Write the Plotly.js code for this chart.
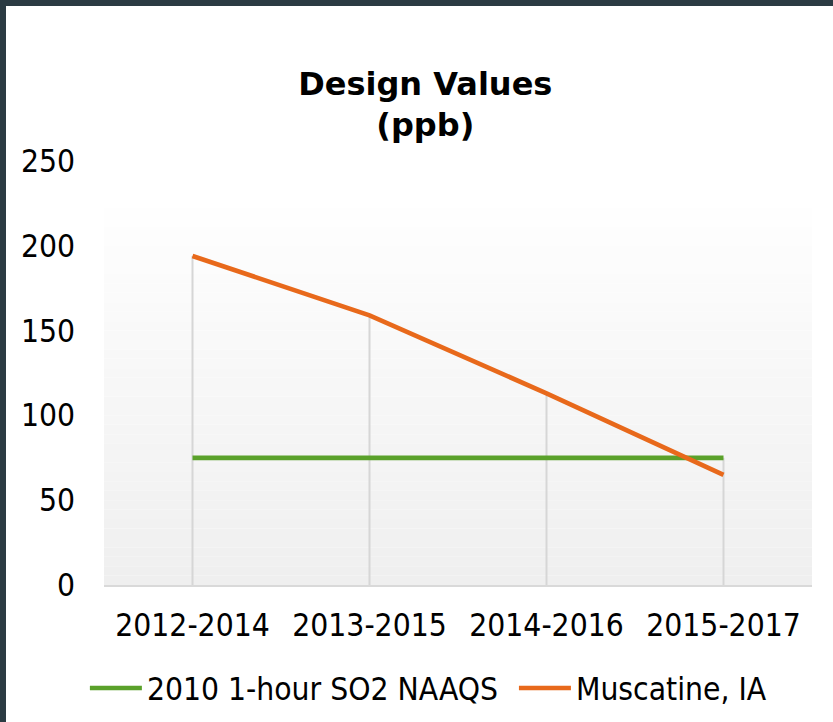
<!DOCTYPE html>
<html>
<head>
<meta charset="utf-8">
<script src="https://cdn.plot.ly/plotly-3.0.1.min.js"></script>
<style>
  html, body { margin: 0; padding: 0; background: #2B3B43; width: 833px; height: 722px; overflow: hidden; }
  #chart { position: absolute; left: 6px; top: 6px; width: 827px; height: 716px; background: #ffffff; }
</style>
</head>
<body>
<div id="chart"></div>
<script>
// ---- data ----
var categories = ["2012-2014", "2013-2015", "2014-2016", "2015-2017"];
var naaqsValues = [75, 75, 75, 75];
var muscatineValues = [194, 159, 113, 65];
var seriesNames = ["2010 1-hour SO2 NAAQS", "Muscatine, IA"];
var yTicks = [0, 50, 100, 150, 200, 250];

// drop lines from axis to the highest series value at each category
var dropX = [], dropY = [];
for (var i = 0; i < categories.length; i++) {
  dropX.push(categories[i], categories[i], null);
  dropY.push(0, Math.max(naaqsValues[i], muscatineValues[i]), null);
}

var traces = [
  { x: dropX, y: dropY, type: "scatter", mode: "lines",
    line: { color: "#D6D6D6", width: 2 }, showlegend: false, hoverinfo: "skip" },
  { x: categories, y: naaqsValues, name: seriesNames[0], type: "scatter", mode: "lines",
    line: { color: "#5AA12A", width: 4.7 }, legend: "legend" },
  { x: categories, y: muscatineValues, name: seriesNames[1], type: "scatter", mode: "lines",
    line: { color: "#E8691B", width: 4.7 }, legend: "legend2" }
];

// gradient plot-area background as stacked bands
var shapes = [];
var nBands = 40, topPaper = 0.889;
for (var b = 0; b < nBands; b++) {
  var t = b / (nBands - 1);
  var c = Math.round(0xEF + (0xFE - 0xEF) * t);
  var hex = c.toString(16);
  shapes.push({ type: "rect", xref: "paper", yref: "paper", layer: "below",
    x0: 0, x1: 1, y0: topPaper * b / nBands, y1: topPaper * (b + 1) / nBands,
    fillcolor: "#" + hex + hex + hex, line: { width: 0 } });
}

var tickFont = { family: "DejaVu Sans Condensed, DejaVu Sans, sans-serif", size: 31.5, color: "#000000" };

var layout = {
  width: 827, height: 716,
  margin: { l: 98, r: 21, t: 155, b: 137, autoexpand: false },
  paper_bgcolor: "#ffffff",
  plot_bgcolor: "rgba(0,0,0,0)",
  title: {
    text: "<b>Design Values<br>(ppb)</b>",
    font: { family: "DejaVu Sans, sans-serif", size: 32, color: "#000000" },
    x: 0.507, xref: "container", xanchor: "center",
    y: 0.876, yref: "container", yanchor: "top"
  },
  xaxis: {
    type: "category", range: [-0.5, 3.5],
    showgrid: false, zeroline: false,
    showline: true, linecolor: "#D9D9D9", linewidth: 1.5,
    ticks: "", tickfont: tickFont, ticklabelstandoff: 12, fixedrange: true
  },
  yaxis: {
    range: [0, 250], tickvals: yTicks, ticktext: yTicks.map(String),
    showgrid: false, zeroline: false, showline: false,
    ticks: "", tickfont: tickFont, ticklabelstandoff: 28, fixedrange: true
  },
  showlegend: true,
  legend: {
    orientation: "h", x: -0.027, xanchor: "left", y: -0.243, yanchor: "middle",
    font: tickFont, bgcolor: "rgba(0,0,0,0)", itemwidth: 52
  },
  legend2: {
    orientation: "h", x: 0.579, xanchor: "left", y: -0.243, yanchor: "middle",
    font: tickFont, bgcolor: "rgba(0,0,0,0)", itemwidth: 52
  },
  shapes: shapes,
  hovermode: false
};

Plotly.newPlot("chart", traces, layout, { displayModeBar: false, staticPlot: true });
</script>
</body>
</html>
